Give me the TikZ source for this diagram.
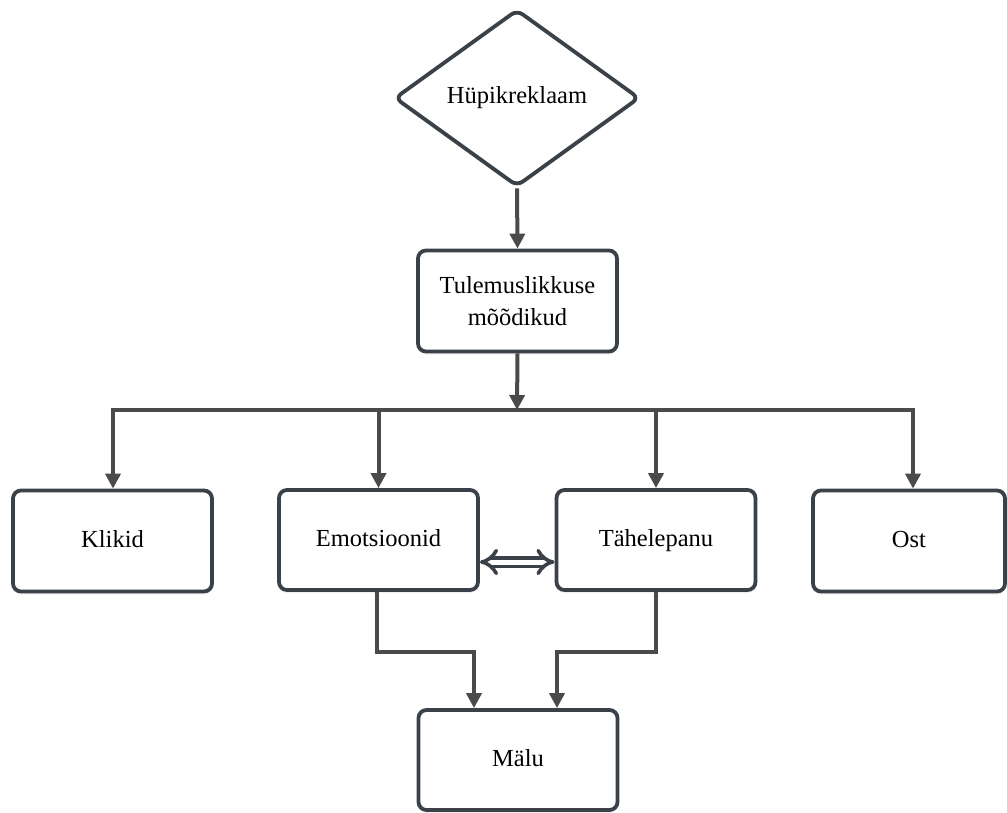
\documentclass[tikz,border=0pt]{standalone}
\usepackage{fontspec}
\setmainfont{Liberation Serif}
\usetikzlibrary{shapes.geometric,arrows.meta,shadows}
\definecolor{edgec}{HTML}{3B4149}
\definecolor{linec}{HTML}{4A4A4A}
\tikzset{
  box/.style={draw=edgec, line width=3.8pt, rounded corners=8pt, fill=white,
    minimum width=199pt, minimum height=101pt, align=center,
    font=\fontsize{24.5}{32}\selectfont, inner sep=0pt,
    drop shadow={opacity=0.12, shadow xshift=0pt, shadow yshift=-3pt}},
  one/.style={text height=17pt, text depth=5pt},
  dia/.style={draw=edgec, line width=3.8pt, rounded corners=7pt, fill=white, diamond,
    minimum width=245pt, minimum height=177pt, inner sep=0pt,
    font=\fontsize{24.5}{30}\selectfont,
    drop shadow={opacity=0.12, shadow xshift=0pt, shadow yshift=-3pt}},
  conn/.style={draw=linec, line width=4pt},
  arr/.style={conn, -{Triangle[length=15pt,width=15pt]}},
  dbl/.style={draw=edgec, line width=3.6pt, double=white, double distance=5pt,
    {Implies[scale=1.25]}-{Implies[scale=1.25]}}
}
\begin{document}
\begin{tikzpicture}[x=1pt,y=1pt]
\useasboundingbox (0,0) rectangle (1007,-812);
\node[dia] (hup) at (517,-98) {Hüpikreklaam};
\node[box] (tul) at (517.5,-301) {Tulemuslikkuse\\mõõdikud};
\node[box, one] (kli) at (112.5,-541) {Klikid};
\node[box, one, minimum height=100pt] (emo) at (378.5,-540) {Emotsioonid};
\node[box, one, minimum height=100pt] (tah) at (656,-540) {Tähelepanu};
\node[box, one, minimum width=192pt] (ost) at (909,-541) {Ost};
\node[box, one, minimum height=100pt] (mal) at (518,-760) {Mälu};
\coordinate (bar) at (517,-410);
\coordinate (barl) at (113,-410);
\coordinate (barr) at (913,-410);
\draw[arr] (hup.south) -- (tul.north);
\draw[arr] (tul.south) -- (bar);
\draw[conn, line cap=rect] (barl) -- (barr);
\draw[arr] (barl) -- (barl |- kli.north);
\draw[arr] (emo.north |- bar) -- (emo.north);
\draw[arr] (tah.north |- bar) -- (tah.north);
\draw[arr] (barr) -- (barr |- ost.north);
\draw[arr] ([xshift=-1.5pt]emo.south) -- ++(0,-60) -| ([xshift=-44pt]mal.north);
\draw[arr] (tah.south) -- ++(0,-60) -| ([xshift=39pt]mal.north);
\draw[dbl] ([yshift=-22pt]emo.east) -- ([yshift=-22pt]tah.west);
\end{tikzpicture}
\end{document}
